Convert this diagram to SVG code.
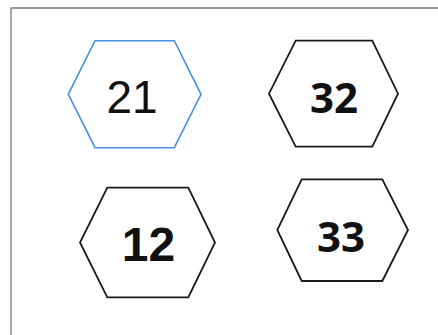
<svg xmlns="http://www.w3.org/2000/svg" width="438" height="335" viewBox="0 0 438 335">
<style>
.frame{fill:none;stroke:#7a7a80;stroke-width:1.3}
.hex{fill:#fff;stroke:#1a1a1a;stroke-width:1.8;stroke-linejoin:miter}
.hex.sel{stroke:#4a8fdc;stroke-width:1.6}
.t{fill:#111;text-anchor:middle}
.arial{font-family:"Liberation Sans",Arial,sans-serif;font-size:46px}
.arialb{font-family:"Liberation Sans",Arial,sans-serif;font-size:48px;font-weight:bold}
.cal{font-family:"Open Sans",Lato,sans-serif;font-size:42px;font-weight:700}
</style>
<rect width="438" height="335" fill="#fff"/>
<path class="frame" d="M11,335 V8 H438"/>
<g id="connectors"></g>
<g id="node-21">
<polygon class="hex sel" points="95,40.7 174.3,40.7 201,94.3 174.3,147.7 95,147.7 68.3,94.3"/>
<text class="t arial" x="132" y="113">21</text>
</g>
<g id="node-32">
<polygon class="hex" points="295.7,40.7 372.3,40.7 398,93.7 372.3,146.7 295.7,146.7 269,93.7"/>
<text class="t cal" x="334" y="113">32</text>
</g>
<g id="node-12">
<polygon class="hex" points="107.3,187.7 188.3,187.7 215,242.5 188.3,297.3 107.3,297.3 80,242.5"/>
<text class="t arialb" x="148.5" y="261">12</text>
</g>
<g id="node-33">
<polygon class="hex" points="301.7,179.3 382.3,179.3 408,230 382.3,281 301.7,281 277.3,230"/>
<text class="t cal" x="341" y="252">33</text>
</g>
</svg>
